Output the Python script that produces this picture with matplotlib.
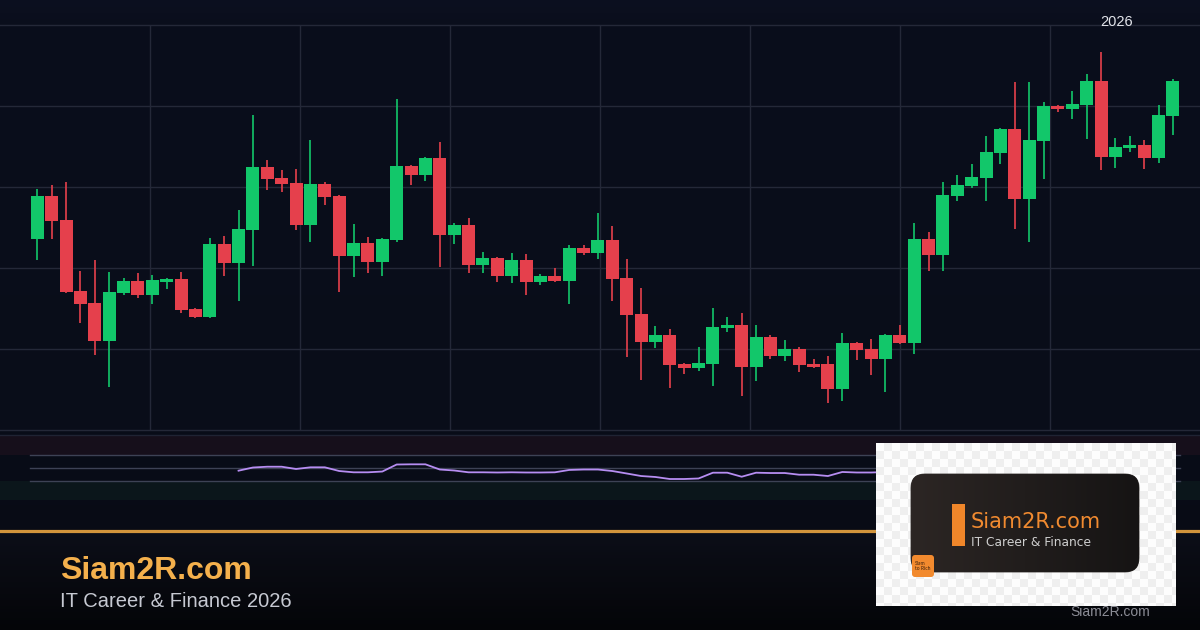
import numpy as np
import matplotlib
matplotlib.use("Agg")
import matplotlib.pyplot as plt
from matplotlib.patches import FancyBboxPatch, Rectangle
from matplotlib.lines import Line2D

# ---------------- data ----------------
opens = [123.6, 128.9, 125.9, 117.2, 115.7, 111.0, 116.9, 118.4, 116.7, 118.3,
         118.6, 114.9, 114.0, 123.0, 120.6, 124.7, 132.5, 131.1, 130.5, 125.3,
         130.4, 128.9, 121.5, 123.1, 120.7, 123.5, 132.6, 131.5, 133.6, 124.1,
         125.3, 120.4, 121.2, 119.0, 121.0, 118.3, 119.0, 118.4, 122.5, 121.9,
         123.5, 118.8, 114.3, 110.9, 111.7, 108.1, 107.7, 108.1, 112.6, 113.0,
         107.8, 111.5, 109.1, 110.0, 108.1, 108.1, 105.1, 110.7, 110.0, 108.8,
         111.7, 110.7, 123.6, 121.6, 128.9, 130.1, 131.1, 134.2, 137.2, 128.5,
         135.7, 140.0, 139.6, 140.1, 143.1, 133.7, 134.8, 135.2, 133.6, 138.8]
closes = [128.9, 125.8, 117.0, 115.6, 111.0, 117.0, 118.4, 116.7, 118.5, 118.6,
          114.8, 114.0, 123.0, 120.6, 124.8, 132.5, 131.0, 130.4, 125.3, 130.4,
          128.8, 121.5, 123.1, 120.7, 123.6, 132.6, 131.5, 133.6, 124.1, 125.3,
          120.4, 121.2, 119.0, 121.0, 118.3, 119.0, 118.4, 122.5, 121.9, 123.5,
          118.6, 114.2, 110.9, 111.7, 108.0, 107.7, 108.3, 112.7, 113.0, 107.8,
          111.5, 109.1, 110.0, 108.0, 107.8, 105.1, 110.7, 109.9, 108.8, 111.7,
          110.7, 123.6, 121.6, 129.0, 130.2, 131.2, 134.3, 137.2, 128.5, 135.8,
          140.0, 139.6, 140.2, 143.1, 133.7, 134.9, 135.2, 133.6, 138.9, 143.1]
highs = [129.8, 130.2, 130.6, 119.6, 121.0, 119.5, 118.8, 119.4, 119.1, 118.8,
         119.5, 115.1, 123.7, 124.0, 127.2, 138.9, 133.3, 132.1, 132.2, 135.8,
         130.6, 129.0, 125.4, 123.8, 123.7, 140.9, 132.7, 133.7, 135.6, 125.6,
         126.2, 122.0, 121.4, 121.9, 121.7, 119.3, 120.0, 122.8, 122.8, 126.8,
         125.2, 121.1, 117.5, 112.8, 112.5, 108.3, 110.2, 115.1, 114.0, 114.4,
         113.0, 111.7, 111.1, 110.2, 108.8, 109.1, 112.0, 110.9, 111.2, 111.8,
         113.0, 125.6, 124.4, 130.6, 131.5, 132.8, 136.3, 137.3, 143.0, 143.0,
         140.5, 140.1, 141.9, 144.0, 146.7, 136.0, 136.3, 135.8, 140.1, 143.3]
lows = [121.0, 123.6, 116.9, 113.2, 109.3, 105.3, 116.7, 116.3, 115.6, 117.4,
        114.4, 113.8, 113.8, 119.0, 115.9, 120.2, 129.6, 129.4, 124.7, 123.2,
        127.8, 117.0, 118.9, 119.4, 119.0, 123.2, 130.2, 130.7, 120.1, 123.0,
        119.4, 119.4, 118.3, 118.1, 116.7, 117.9, 118.3, 115.6, 121.6, 121.1,
        115.9, 109.0, 106.2, 110.1, 105.2, 106.9, 107.3, 105.4, 112.1, 104.2,
        106.0, 108.8, 108.5, 107.2, 107.7, 103.3, 103.6, 108.6, 106.8, 104.7,
        110.6, 109.4, 119.6, 119.6, 128.3, 129.9, 128.3, 132.8, 124.8, 123.2,
        131.0, 139.3, 138.4, 135.9, 132.1, 132.3, 134.3, 132.2, 133.0, 136.4]

rsi_start = 14
rsi_values = [45.1, 50.0, 51.2, 51.2, 47.7, 50.3, 50.3, 44.6, 42.6, 42.6,
              43.8, 54.6, 54.9, 54.9, 46.9, 45.4, 42.6, 42.6, 42.3, 42.6,
              42.3, 42.3, 42.6, 46.2, 46.9, 46.9, 44.6, 40.8, 36.9, 35.4,
              32.3, 32.3, 33.1, 42.0, 42.0, 35.8, 42.0, 41.5, 41.5, 38.9,
              38.9, 36.9, 43.1, 42.3, 42.3, 43.0]

price_grid = [100, 110, 120, 130, 140, 150]
rsi_levels = [30, 50, 70]
year_label = "2026"

# ---------------- layout ----------------
W, H = 1200, 630
X0_PX, STEP_PX = 37.3, 14.375          # first candle centre / candle spacing (px)
XLO = -X0_PX / STEP_PX
XHI = (W - X0_PX) / STEP_PX

def fy(px):
    return 1 - px / H

GREEN = '#12c76a'
RED = '#e5404c'
GRID = '#242838'

fig = plt.figure(figsize=(12, 6.3), dpi=100)

# background gradient
bg = fig.add_axes([0, 0, 1, 1], zorder=-10)
bg.set_axis_off()
rows = np.arange(H)
def hex2rgb(hx):
    hx = hx.lstrip('#')
    return np.array([int(hx[i:i + 2], 16) / 255 for i in (0, 2, 4)])
stops_y = [0, 25, 430, 530, 533, 630]
stops_c = [hex2rgb(cc) for cc in ['#0c1020', '#0a0e1c', '#090d19', '#080b15', '#0c0e18', '#040508']]
grad = np.zeros((H, 1, 3))
for k in range(3):
    grad[:, 0, k] = np.interp(rows, stops_y, [cc[k] for cc in stops_c])
bg.imshow(grad, aspect='auto', extent=[0, 1, 0, 1], interpolation='bilinear')

# main candlestick axes
ax = fig.add_axes([0, fy(430), 1, (430 - 25) / H])
ax.set_xlim(XLO, XHI)
ax.set_ylim(price_grid[0], price_grid[-1])
ax.axis('off')
for v in price_grid:
    ax.axhline(v, color=GRID, lw=1, clip_on=False, zorder=0)
for px in range(150, W, 150):
    ax.axvline((px - X0_PX) / STEP_PX, color=GRID, lw=1, zorder=0)

o = np.array(opens); c = np.array(closes)
h = np.array(highs); l = np.array(lows)
idx = np.arange(len(o))
cols = np.where(c >= o, GREEN, RED)
ax.vlines(idx, l, h, colors=cols, lw=1.2, zorder=2)
ax.bar(idx, np.abs(c - o), bottom=np.minimum(o, c), width=0.9,
       color=cols, linewidth=0, zorder=3)

# separator line under chart
fig.add_artist(Line2D([0, 1], [fy(435)] * 2, color='#1f2333', lw=1,
                      transform=fig.transFigure))

# RSI panel
rax = fig.add_axes([0, fy(500), 1, 65 / H])
rax.set_xlim(XLO, XHI)
rax.set_ylim(0, 100)
rax.axis('off')
rax.axhspan(70, 100, color='#160f1b', lw=0, zorder=0)
rax.axhspan(0, 30, color='#0b161b', lw=0, zorder=0)
for lv in rsi_levels:
    rax.axhline(lv, xmin=30 / W, xmax=1180 / W, color='#3d4255', lw=1, zorder=1)
rsi_x = np.arange(rsi_start, rsi_start + len(rsi_values))
rax.plot(rsi_x, rsi_values, color='#b68df2', lw=1.3, zorder=2)

# orange divider
fig.add_artist(Line2D([0, 1], [fy(531)] * 2, color='#d2943c', lw=2.3,
                      transform=fig.transFigure))

# texts
fig.text(60 / W, fy(579), 'Siam2R.com', color='#f4b04c', fontsize=23,
         fontweight='bold', family='Liberation Sans', va='baseline', ha='left')
fig.text(60 / W, fy(607), 'IT Career & Finance 2026', color='#c6c9d2',
         fontsize=14.5, family='Liberation Sans', va='baseline', ha='left')
fig.text(1100 / W, fy(26), year_label, color='#e2e4ea', fontsize=10.5,
         family='Liberation Sans', va='baseline', ha='left')
fig.text(1070 / W, fy(616), 'Siam2R.com', color='#8c8d96', fontsize=10,
         family='Liberation Sans', va='baseline', ha='left')

# logo box
lax = fig.add_axes([876 / W, fy(606), 300 / W, 163 / H], zorder=5)
lax.axis('off')
cell = 8
ny, nx = int(np.ceil(163 / cell)), int(np.ceil(300 / cell))
jj, ii = np.meshgrid(np.arange(nx), np.arange(ny))
chk = np.where((ii + jj) % 2 == 0, 0.995, 0.94)
lax.imshow(chk[:, :, None] * np.ones(3), extent=[0, nx * cell, ny * cell, 0],
           aspect='auto', interpolation='nearest', zorder=0)
lax.set_xlim(0, 300)
lax.set_ylim(163, 0)

card = FancyBboxPatch((35, 31), 228, 98, boxstyle='round,pad=0,rounding_size=14',
                      facecolor='#1f1b1a', edgecolor='#3a3634', lw=0.6, zorder=1)
lax.add_patch(card)
cg = np.zeros((2, 64, 3))
for k in range(3):
    cg[:, :, k] = np.linspace(hex2rgb('#2c2624')[k], hex2rgb('#161414')[k], 64)
im = lax.imshow(cg, extent=[35, 263, 129, 31], aspect='auto',
                interpolation='bilinear', zorder=2)
im.set_clip_path(card)
lax.set_xlim(0, 300)
lax.set_ylim(163, 0)
lax.add_patch(Rectangle((76, 61), 13, 42, facecolor='#f0862a', lw=0, zorder=3))
lax.text(95, 79, 'Siam2R.com', color='#f08a30', fontsize=15, family='DejaVu Sans',
         va='center', ha='left', zorder=4)
lax.text(95, 99, 'IT Career & Finance', color='#cfcfcf', fontsize=8.8,
         family='DejaVu Sans', va='center', ha='left', zorder=4)
lax.add_patch(FancyBboxPatch((36, 112), 22, 22, boxstyle='round,pad=0,rounding_size=3',
                             facecolor='#f28a2e', lw=0, zorder=3))
lax.text(39, 123, 'Siam\nto Rich', color='#3b1f0c', fontsize=3.6, family='Lato',
         va='center', ha='left', linespacing=1.0, zorder=4)

fig.savefig('out.png', dpi=100, facecolor='#0a0e1b')
